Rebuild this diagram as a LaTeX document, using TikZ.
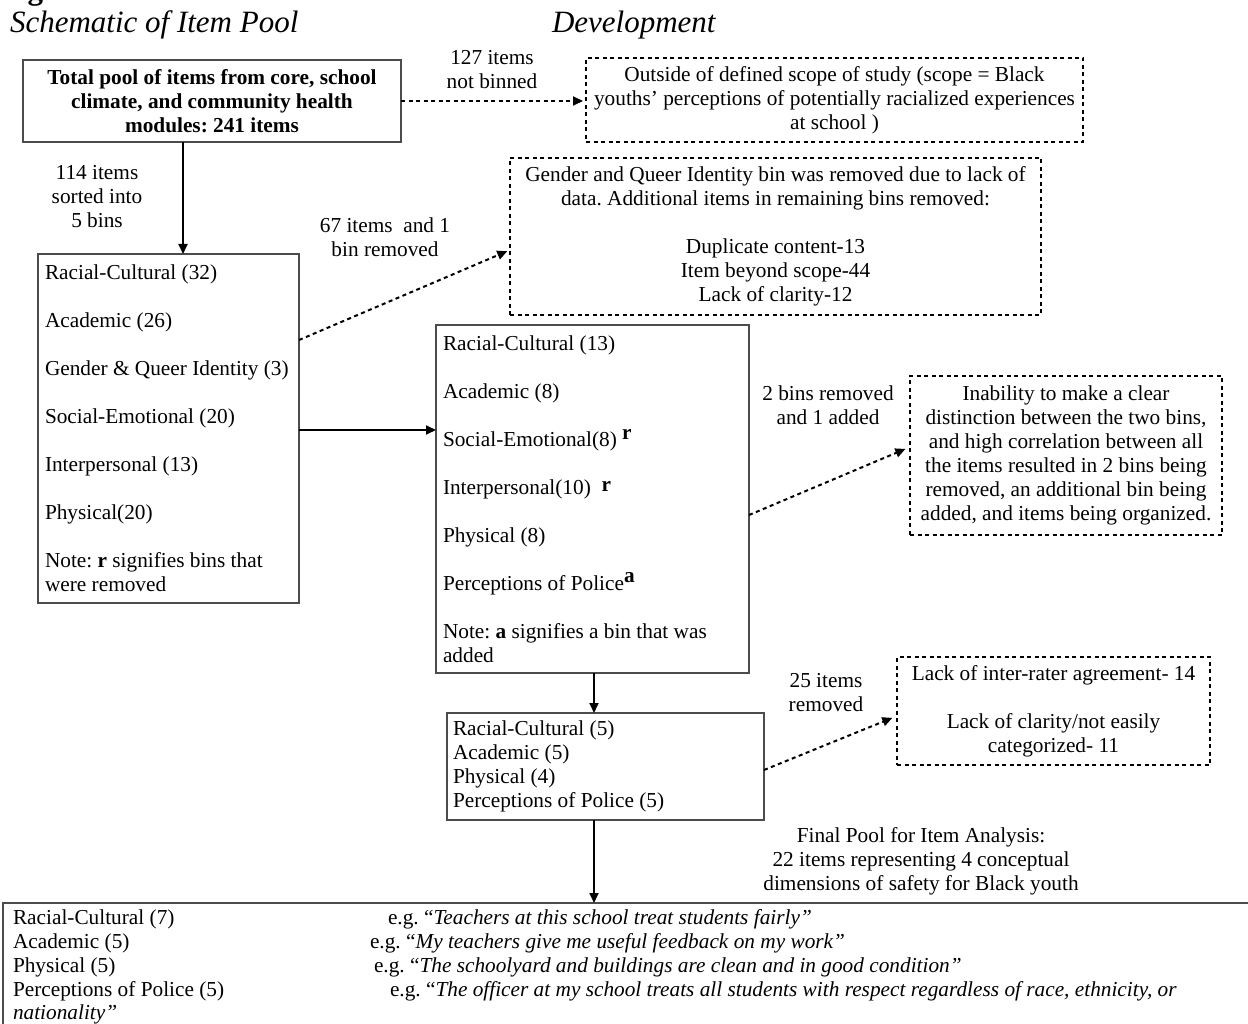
\documentclass[tikz,border=0pt]{standalone}
\usepackage{fontspec}
\setmainfont{Liberation Serif}
\usetikzlibrary{arrows.meta,calc}
\newcommand\bodysz{\fontsize{21.3}{24}\selectfont\frenchspacing}
\newcommand\titlesz{\fontsize{31}{36}\selectfont}
\begin{document}
\begin{tikzpicture}[x=1pt,y=-1pt,
  every node/.style={font=\bodysz, inner sep=0pt, outer sep=0pt},
  solidbox/.style={draw=black!70, line width=1.2pt, anchor=north west},
  dashbox/.style={draw=black, line width=2.1pt, dash pattern=on 4pt off 3.5pt, anchor=north west, align=flush center},
  arr/.style={line width=1.8pt, -{Triangle[length=10pt,width=9pt]}},
  darr/.style={line width=2pt, dash pattern=on 4pt off 3.5pt, -{Triangle[length=10pt,width=9pt]}, shorten >=3pt},
  lbl/.style={align=flush center},
  listbox/.style={solidbox, align=flush left, inner ysep=0pt},
]
\useasboundingbox (0,0) rectangle (1248,1024);

% title
\node[anchor=base west, font=\bfseries\titlesz] (t0) at (0,0) {Figure 1};
\node[anchor=base west, font=\itshape\titlesz] (t1) at (10,33) {Schematic of Item Pool};
\node[anchor=base west, font=\itshape\titlesz] (t2) at (552,33) {Development};

% boxes
\node[solidbox, minimum width=378pt, minimum height=82pt, align=flush center, font=\bfseries\bodysz] (b1) at (23,60)
  {Total pool of items from core, school\\climate, and community health\\modules: 241 items};

\node[dashbox, minimum width=497pt, minimum height=84pt] (bout) at (586,58)
  {Outside of defined scope of study (scope = Black\\youths’ perceptions of potentially racialized experiences\\at school )};

\node[listbox, minimum height=349pt, text width=247pt, inner xsep=7pt] (b2) at (38,254)
  {Racial-Cultural (32)\\[24pt]
   Academic (26)\\[24pt]
   \mbox{Gender \& Queer Identity (3)}\\[24pt]
   Social-Emotional (20)\\[24pt]
   Interpersonal (13)\\[24pt]
   Physical(20)\\[24pt]
   \mbox{Note: \textbf{r} signifies bins that}\\
   were removed};

\node[dashbox, minimum width=531pt, minimum height=157pt] (b3) at (510,158)
  {Gender and Queer Identity bin was removed due to lack of\\
   data. Additional items in remaining bins removed:\\[24pt]
   Duplicate content-13\\
   Item beyond scope-44\\
   Lack of clarity-12};

\node[listbox, minimum height=348pt, text width=299pt, inner xsep=7pt] (b4) at (436,325)
  {Racial-Cultural (13)\\[24pt]
   Academic (8)\\[24pt]
   Social-Emotional(8) \raisebox{.3em}{\textbf{r}}\\[24pt]
   Interpersonal(10)~ \raisebox{.15em}{\textbf{r}}\\[24pt]
   Physical (8)\\[24pt]
   Perceptions of Police\raisebox{.35em}{\textbf{a}}\\[24pt]
   \mbox{Note: \textbf{a} signifies a bin that was}\\
   added};

\node[dashbox, minimum width=312pt, minimum height=159pt] (b5) at (910,376)
  {Inability to make a clear\\
   distinction between the two bins,\\
   and high correlation between all\\
   the items resulted in 2 bins being\\
   removed, an additional bin being\\
   added, and items being organized.};

\node[listbox, minimum height=107pt, text width=305pt, inner xsep=6pt] (b6) at (447,713)
  {Racial-Cultural (5)\\
   Academic (5)\\
   Physical (4)\\
   Perceptions of Police (5)};

\node[dashbox, minimum width=313pt, minimum height=108pt] (b7) at (897,657)
  {Lack of inter-rater agreement- 14\\[24pt]
   Lack of clarity/not easily\\
   categorized- 11};

\node[solidbox, minimum width=1300pt, minimum height=200pt] (b8) at (3,903) {};

% bottom box text
\node[anchor=base west] (f1) at (13,924) {Racial-Cultural (7)};
\node[anchor=base west] (f2) at (13,948) {Academic (5)};
\node[anchor=base west] (f3) at (13,972) {Physical (5)};
\node[anchor=base west] (f4) at (13,996) {Perceptions of Police (5)};
\node[anchor=base west] (f5) at (13,1019) {\textit{nationality”}};
\node[anchor=base west] (e1) at (388,924) {e.g. “\textit{Teachers at this school treat students fairly”}};
\node[anchor=base west] (e2) at (370,948) {e.g. “\textit{My teachers give me useful feedback on my work”}};
\node[anchor=base west] (e3) at (374,972) {e.g. “\textit{The schoolyard and buildings are clean and in good condition”}};
\node[anchor=base west] (e4) at (390,996) {e.g. “\textit{The officer at my school treats all students with respect regardless of race, ethnicity, or}};

% labels
\node[lbl] (l127) at (492,70) {127 items\\not binned};
\node[lbl] (l114) at (97,197) {114 items\\sorted into\\5 bins};
\node[lbl] (l67) at (385,237) {67 items~ and 1\\bin removed};
\node[lbl] (l2b) at (828,405) {2 bins removed\\and 1 added};
\node[lbl] (l25) at (826,693) {25 items\\removed};
\node[lbl] (lfin) at (921,861) {Final Pool for Item Analysis:\\22 items representing 4 conceptual\\dimensions of safety for Black youth};

% connectors
\draw[darr] (b1.east) -- (b1.east -| bout.west);
\draw[arr] ([xshift=160pt]b1.south west) -- ([xshift=145pt]b2.north west);
\draw[darr] ([yshift=-86pt]b2.north east) -- ([yshift=-92pt]b3.north west);
\draw[arr] ([yshift=-176pt]b2.north east) -- ([yshift=-105pt]b4.north west);
\draw[darr, shorten >=5pt] ([yshift=-190pt]b4.north east) -- ([yshift=-71pt]b5.north west);
\draw[arr] ([xshift=158pt]b4.south west) -- ([xshift=147pt]b6.north west);
\draw[darr, shorten >=5pt] ([yshift=-57pt]b6.north east) -- ([yshift=-59pt]b7.north west);
\draw[arr] ([xshift=147pt]b6.south west) -- ([xshift=591pt]b8.north west);
\end{tikzpicture}
\end{document}
